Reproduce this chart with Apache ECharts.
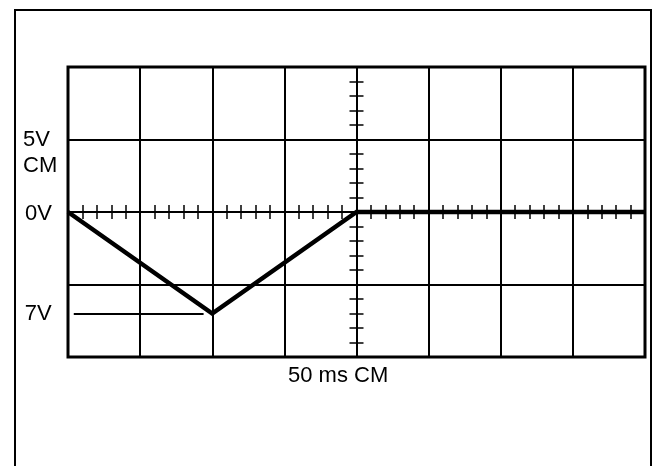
<!DOCTYPE html>
<html>
<head>
<meta charset="utf-8">
<title>scope trace</title>
<script src="https://cdn.jsdelivr.net/npm/echarts@6/dist/echarts.min.js"></script>
<style>
  *{ margin:0; padding:0; }
  body{ background:#fff; }
  #chart{ width:657px; height:466px; }
</style>
</head>
<body>
<div id="chart"></div>
<script>
// time in ms, measured from the centre of the screen (50 ms / div, 8 div)
const timeMs = [-200, -100, 0, 200]
// trace voltage (5 V / div, 0V on the centre line)
const volts = [0, -7, 0, 0]
// the 7V reference marker
const markerVolts = -7
const markerFrom = -196
const markerTo = -106
const markerText = '7V'
// side labels
const voltLabels = ['5V', 'CM', '0V']
const timeLabel = '50 ms CM'

const black = '#000'
const font = '22px "Liberation Sans", Arial, sans-serif'

const chart = echarts.init(document.getElementById('chart'))

// centre-line axis with minor ticks; two copies so the ticks cross the line
function centreAxis(position, min, max, interval) {
  return {
    type: 'value',
    position: position,
    min: min,
    max: max,
    interval: interval,
    axisLine: { show: true, onZero: true, onZeroAxisIndex: 0, lineStyle: { color: black, width: 2 } },
    axisTick: { show: true, inside: false, length: 7, lineStyle: { color: black, width: 1.5 } },
    minorTick: { show: true, splitNumber: 5, length: 7, lineStyle: { color: black, width: 1.5 } },
    axisLabel: { show: false },
    splitLine: { show: position === 'bottom' || position === 'left', lineStyle: { color: black, width: 2 } },
    minorSplitLine: { show: false }
  }
}

const option = {
  animation: false,
  backgroundColor: '#fff',
  grid: {
    left: 68, top: 67, right: 12, bottom: 109,
    show: true, borderColor: black, borderWidth: 3
  },
  xAxis: [
    centreAxis('bottom', -200, 200, 50),
    centreAxis('top', -200, 200, 50)
  ],
  yAxis: [
    centreAxis('left', -10, 10, 5),
    centreAxis('right', -10, 10, 5)
  ],
  series: [{
    type: 'line',
    xAxisIndex: 0,
    yAxisIndex: 0,
    data: timeMs.map((t, i) => [t, volts[i]]),
    showSymbol: false,
    symbol: 'none',
    lineStyle: { color: black, width: 4.5, join: 'miter' },
    z: 5,
    markLine: {
      silent: true,
      symbol: 'none',
      lineStyle: { color: black, width: 2, type: 'solid' },
      label: {
        show: true, position: 'start', distance: 22,
        formatter: markerText, color: black, fontSize: 22,
        fontFamily: '"Liberation Sans", Arial, sans-serif'
      },
      data: [[{ coord: [markerFrom, markerVolts] }, { coord: [markerTo, markerVolts] }]]
    }
  }],
  graphic: [
    // outer frame
    { type: 'rect', shape: { x: 15, y: 10, width: 636, height: 470 },
      style: { fill: 'none', stroke: black, lineWidth: 2 } },
    { type: 'text', x: 23, y: 140, style: { text: voltLabels[0], font: font, fill: black, verticalAlign: 'middle' } },
    { type: 'text', x: 23, y: 166, style: { text: voltLabels[1], font: font, fill: black, verticalAlign: 'middle' } },
    { type: 'text', x: 25, y: 214, style: { text: voltLabels[2], font: font, fill: black, verticalAlign: 'middle' } },
    { type: 'text', x: 288, y: 376, style: { text: timeLabel, font: font, fill: black, verticalAlign: 'middle' } }
  ]
}

chart.setOption(option)
</script>
</body>
</html>
